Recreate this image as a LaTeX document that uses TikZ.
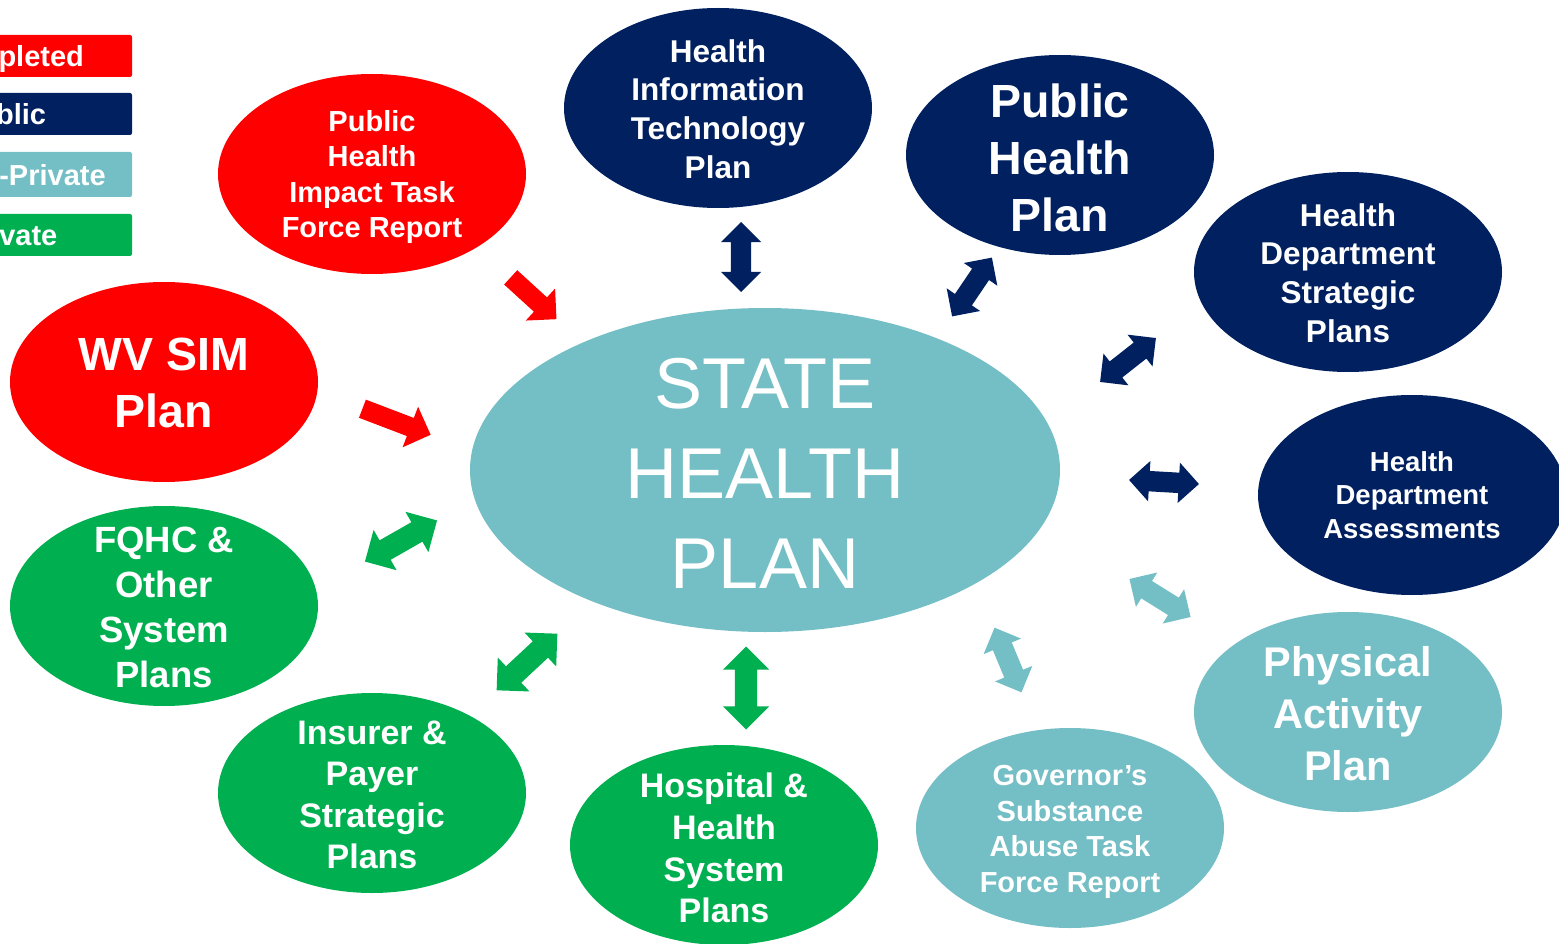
\documentclass[tikz,border=0pt]{standalone}
\usepackage{fontspec}
\setmainfont{Liberation Sans}
\usetikzlibrary{shapes.geometric,shapes.arrows}
\definecolor{shpred}{HTML}{FF0000}
\definecolor{shpnavy}{HTML}{002060}
\definecolor{shpteal}{HTML}{74BEC5}
\definecolor{shpgreen}{HTML}{00B050}
\newcommand{\pfont}[2]{\bfseries\fontsize{#1}{#2}\selectfont}

\begin{document}
\begin{tikzpicture}[x=1pt,y=-1pt]
							\tikzstyle{plan}=[ellipse,draw=none,inner sep=0pt,minimum width=308pt,minimum height=200pt]
							\tikzstyle{plantext}=[text=white,align=center,inner sep=0pt]
							\tikzstyle{legendbox}=[rectangle,rounded corners=2pt,minimum width=246pt,minimum height=42pt,inner sep=0pt,text depth=0pt,text=white,font=\pfont{29}{34}]
							\tikzstyle{twoway}=[double arrow,draw=none,inner xsep=0pt,inner ysep=10pt,double arrow head extend=10pt,minimum width=0pt,minimum height=70pt]
							\tikzstyle{oneway}=[single arrow,draw=none,inner xsep=0pt,inner ysep=9.5pt,single arrow head extend=12pt,minimum width=0pt]
							\tikzstyle{bigway}=[twoway,inner ysep=11pt,double arrow head extend=12pt,minimum height=83pt]
							\useasboundingbox (0,0) rectangle (1559,944);
							\clip (0,0) rectangle (1559,944);
							\node[legendbox,fill=shpred] (done) at (9,56) {Completed};
							\node[legendbox,fill=shpnavy,text width=90pt,align=left] (pub) at (9,114) {\hspace*{-5pt}Public};
							\node[legendbox,fill=shpteal,minimum height=45pt] (pubpriv) at (9,174.5) {Public-Private};
							\node[legendbox,fill=shpgreen] (priv) at (9,235) {Private};
							\node[plan,fill=shpteal,minimum width=590pt,minimum height=324pt] (shp) at (765,470) {};
							\node[plantext,font=\fontsize{72}{90}\selectfont] (shp-t) at (765,473) {STATE\\HEALTH\\PLAN};
							\node[plan,fill=shpred] (phi) at (372,174) {};
							\node[plantext,font=\pfont{29}{35.5}] (phi-t) at (372,177) {Public\\Health\\Impact Task\\Force Report};
							\node[plan,fill=shpnavy] (hit) at (718,108) {};
							\node[plantext,font=\pfont{31.5}{38.7}] (hit-t) at (718,109) {Health\\Information\\Technology\\Plan};
							\node[plan,fill=shpnavy] (php) at (1060,155) {};
							\node[plantext,font=\pfont{46.5}{57}] (php-t) at (1060,158) {Public\\Health\\Plan};
							\node[plan,fill=shpnavy] (hdsp) at (1348,272) {};
							\node[plantext,font=\pfont{31.5}{38.7}] (hdsp-t) at (1348,273) {Health\\Department\\Strategic\\Plans};
							\node[plan,fill=shpnavy] (hda) at (1412,495) {};
							\node[plantext,font=\pfont{27.5}{33.5}] (hda-t) at (hda) {Health\\Department\\Assessments};
							\node[plan,fill=shpteal] (pap) at (1348,712) {};
							\node[plantext,font=\pfont{41.5}{52}] (pap-t) at (1348,714) {Physical\\Activity\\Plan};
							\node[plan,fill=shpteal] (gov) at (1070,828) {};
							\node[plantext,font=\pfont{29}{35.5}] (gov-t) at (1070,832) {Governor’s\\Substance\\Abuse Task\\Force Report};
							\node[plan,fill=shpgreen] (hosp) at (724,845) {};
							\node[plantext,font=\pfont{34}{41.7}] (hosp-t) at (724,848) {Hospital \&\\Health\\System\\Plans};
							\node[plan,fill=shpgreen] (ins) at (372,793) {};
							\node[plantext,font=\pfont{34}{41.5}] (ins-t) at (372,795) {Insurer \&\\Payer\\Strategic\\Plans};
							\node[plan,fill=shpgreen] (fqhc) at (164,606) {};
							\node[plantext,font=\pfont{36.5}{45}] (fqhc-t) at (164,607) {FQHC \&\\Other\\System\\Plans};
							\node[plan,fill=shpred] (sim) at (164,382) {};
							\node[plantext,font=\pfont{46.5}{57}] (sim-t) at (164,383) {WV SIM\\Plan};
							\node[oneway,fill=shpred,minimum height=62pt,rotate=-42.4] (phi-a) at (530,295) {};
							\node[oneway,fill=shpred,minimum height=73pt,rotate=-20.9] (sim-a) at (392,420) {};
							\node[bigway,fill=shpgreen,rotate=29.7] (fqhc-a) at (401,541) {};
							\node[twoway,fill=shpnavy,rotate=90] (hit-a) at (741,257) {};
							\node[twoway,fill=shpnavy,minimum height=71pt,rotate=55.9] (php-a) at (972,287) {};
							\node[twoway,fill=shpnavy,minimum height=71pt,rotate=38.2] (hdsp-a) at (1128,360) {};
							\node[twoway,fill=shpnavy,rotate=-3.3] (hda-a) at (1164,482) {};
							\node[twoway,fill=shpteal,minimum height=72pt,rotate=-31.9] (pap-a) at (1160,598) {};
							\node[twoway,fill=shpteal,rotate=-67.4] (gov-a) at (1008,660) {};
							\node[bigway,fill=shpgreen,rotate=90] (hosp-a) at (746,688) {};
							\node[bigway,fill=shpgreen,rotate=43] (ins-a) at (527,662) {};
\end{tikzpicture}
\end{document}
